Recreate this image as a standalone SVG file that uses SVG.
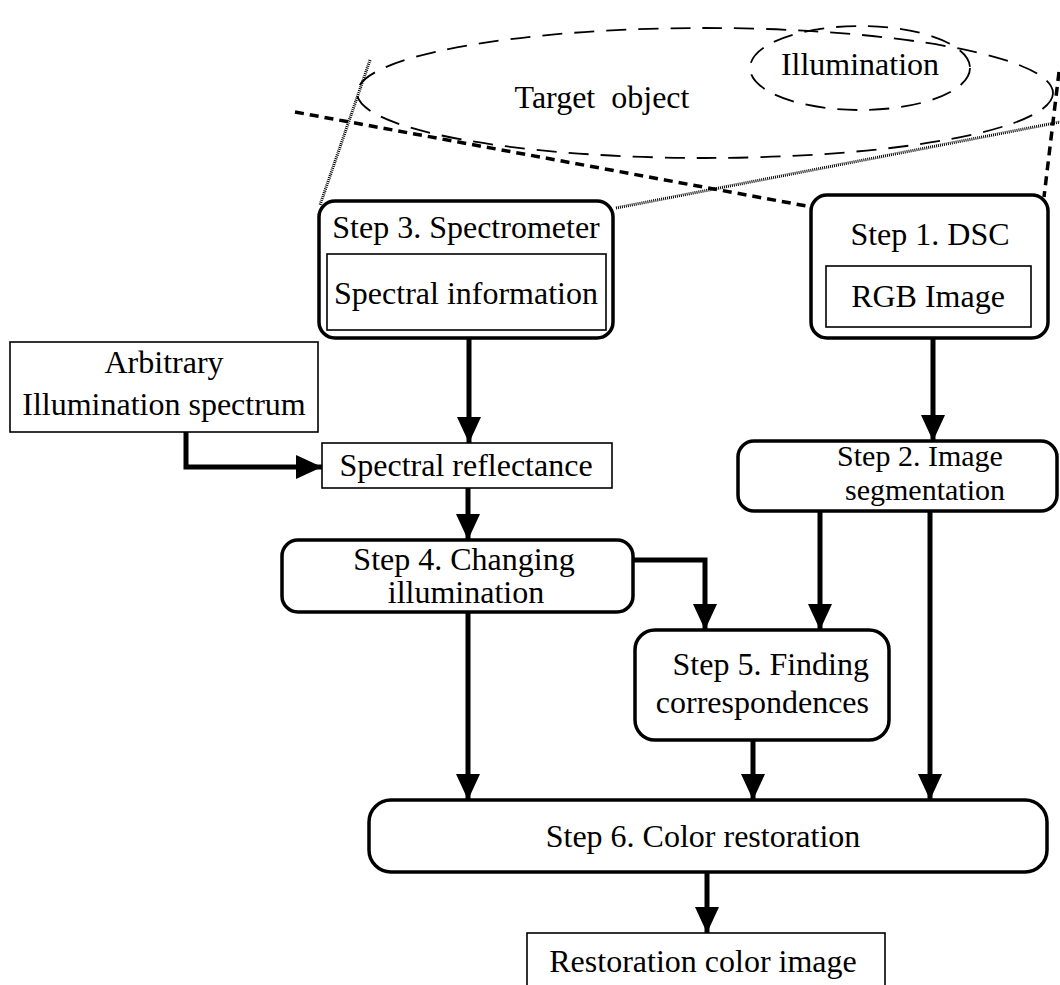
<svg xmlns="http://www.w3.org/2000/svg" width="1060" height="985" viewBox="0 0 1060 985">
<defs>
<marker id="ah" markerUnits="userSpaceOnUse" markerWidth="28" markerHeight="24" refX="26" refY="12" orient="auto">
<path d="M0,0 L26,12 L0,24 Z" fill="#000"/>
</marker>
<style>
text{font-family:"Liberation Serif","Times New Roman",serif;font-size:32px;fill:#000;text-anchor:middle}
.rbox{fill:#fff;stroke:#000;stroke-width:3.5}
.box{fill:#fff;stroke:#000;stroke-width:1.6}
.conn{fill:none;stroke:#000;stroke-width:5;marker-end:url(#ah)}
.ell{fill:none;stroke:#000;stroke-width:1.8;stroke-dasharray:20 12}
.dash{fill:none;stroke:#000;stroke-width:3.5;stroke-dasharray:9 6}
.dot{fill:none;stroke:#000;stroke-width:3;stroke-dasharray:1 1}
</style>
</defs>
<rect width="1060" height="985" fill="#fff"/>

<g id="target-object">
<ellipse class="ell" cx="705" cy="93" rx="348" ry="65"/>
<text x="602" y="108" xml:space="preserve">Target  object</text>
</g>
<g id="illumination">
<ellipse class="ell" cx="860" cy="68" rx="110" ry="42"/>
<text x="860" y="75">Illumination</text>
</g>

<g id="view-lines">
<line class="dot" x1="370" y1="60" x2="320" y2="205"/>
<line class="dot" x1="616" y1="208" x2="1060" y2="122"/>
<line class="dash" x1="295" y1="112" x2="812" y2="207"/>
<line class="dash" x1="1059" y1="72" x2="1044" y2="197"/>
</g>

<g id="connectors">
<line class="conn" x1="469" y1="338" x2="469" y2="443"/>
<path class="conn" d="M186,432 V467 H322"/>
<line class="conn" x1="468" y1="488" x2="468" y2="540"/>
<path class="conn" d="M633,560 H705 V630"/>
<line class="conn" x1="468" y1="612" x2="468" y2="800"/>
<line class="conn" x1="933" y1="338" x2="933" y2="441"/>
<line class="conn" x1="820" y1="511" x2="820" y2="630"/>
<line class="conn" x1="930" y1="511" x2="930" y2="800"/>
<line class="conn" x1="753" y1="740" x2="753" y2="800"/>
<line class="conn" x1="707" y1="872" x2="707" y2="933"/>
</g>

<g id="step3">
<rect class="rbox" x="319" y="201" width="294" height="137" rx="16"/>
<text x="466" y="238">Step 3. Spectrometer</text>
<rect class="box" x="327" y="254" width="279" height="76"/>
<text x="466" y="304">Spectral information</text>
</g>

<g id="step1">
<rect class="rbox" x="811" y="195" width="237" height="143" rx="16"/>
<text x="930" y="245">Step 1. DSC</text>
<rect class="box" x="826" y="266" width="205" height="61"/>
<text x="928" y="307">RGB Image</text>
</g>

<g id="arbitrary">
<rect class="box" x="10" y="342" width="308" height="90"/>
<text x="164" y="373">Arbitrary</text>
<text x="164" y="415">Illumination spectrum</text>
</g>

<g id="spectral-reflectance">
<rect class="box" x="322" y="443" width="290" height="45"/>
<text x="466" y="476">Spectral reflectance</text>
</g>

<g id="step2">
<rect class="rbox" x="738" y="441" width="319" height="70" rx="16"/>
<text x="920" y="466" style="font-size:30px">Step 2. Image</text>
<text x="925" y="500" style="font-size:30px">segmentation</text>
</g>

<g id="step4">
<rect class="rbox" x="282" y="540" width="351" height="72" rx="16"/>
<text x="464" y="570">Step 4. Changing</text>
<text x="466" y="603">illumination</text>
</g>

<g id="step5">
<rect class="rbox" x="635" y="630" width="254" height="110" rx="20"/>
<text x="869" y="675" style="text-anchor:end">Step 5. Finding</text>
<text x="869" y="713" style="text-anchor:end">correspondences</text>
</g>

<g id="step6">
<rect class="rbox" x="369" y="800" width="678" height="72" rx="22"/>
<text x="703" y="847">Step 6. Color restoration</text>
</g>

<g id="restoration">
<rect class="box" x="527" y="933" width="358" height="60"/>
<text x="703" y="972">Restoration color image</text>
</g>
</svg>
